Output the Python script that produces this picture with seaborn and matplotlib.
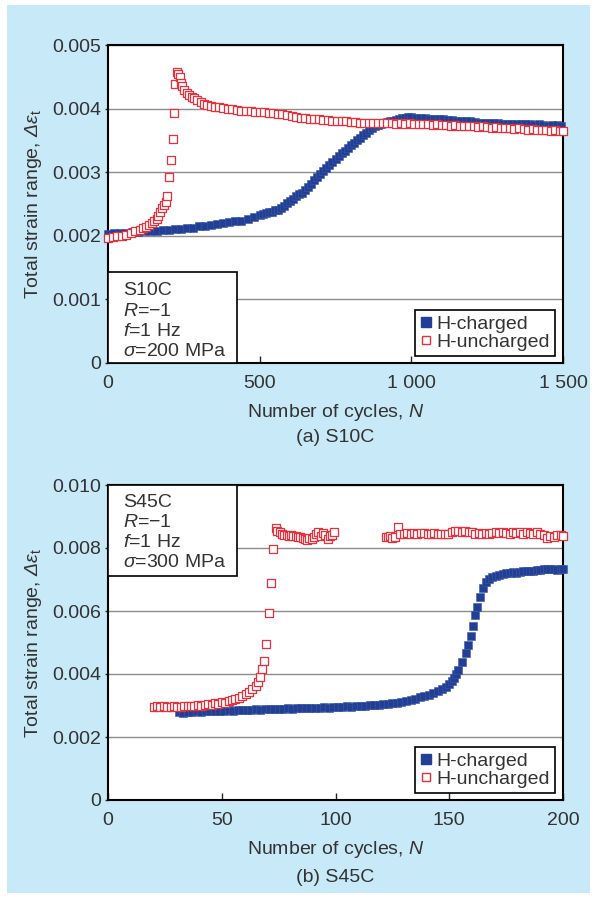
import matplotlib
matplotlib.use("Agg")
import matplotlib.pyplot as plt
import seaborn as sns
from matplotlib.lines import Line2D
from matplotlib.patches import Rectangle

sns.set_style("white")
plt.rcParams.update(
    {
        "font.family": ["Liberation Sans", "DejaVu Sans"],
        "mathtext.fontset": "custom",
        "mathtext.rm": "Liberation Sans",
        "mathtext.it": "Liberation Sans:italic",
        "mathtext.sf": "Liberation Sans:italic",
        "axes.unicode_minus": False,
    }
)

# ---- data: (a) S10C
s10c_charged_n = [
    0, 20, 40, 60, 80, 100, 120, 140, 160, 180, 200, 220, 240, 260, 280, 300,
    320, 340, 360, 380, 400, 420, 440, 460, 480, 500, 510, 520, 530, 540, 550,
    560, 570, 580, 590, 600, 610, 620, 630, 640, 650, 660, 670, 680, 690, 700,
    710, 720, 730, 740, 750, 760, 770, 780, 790, 800, 810, 820, 830, 840, 850,
    860, 870, 880, 890, 900, 910, 920, 930, 940, 950, 960, 970, 980, 990, 1000,
    1015, 1030, 1045, 1060, 1075, 1090, 1105, 1120, 1135, 1150, 1165, 1180,
    1195, 1210, 1225, 1240, 1255, 1270, 1285, 1300, 1315, 1330, 1345, 1360,
    1375, 1390, 1405, 1420, 1435, 1450, 1465, 1480, 1495,
]
s10c_charged = [
    0.00203, 0.00204, 0.00205, 0.00205, 0.00206, 0.00206, 0.00207, 0.00207,
    0.00208, 0.00209, 0.00209, 0.00210, 0.00211, 0.00212, 0.00213, 0.00215,
    0.00216, 0.00217, 0.00219, 0.00220, 0.00221, 0.00223, 0.00224, 0.00227,
    0.00230, 0.00233, 0.00234, 0.00236, 0.00237, 0.00238, 0.00240, 0.00241,
    0.00244, 0.00247, 0.00251, 0.00255, 0.00258, 0.00262, 0.00265, 0.00268,
    0.00272, 0.00277, 0.00282, 0.00287, 0.00292, 0.00297, 0.00302, 0.00307,
    0.00311, 0.00316, 0.00321, 0.00326, 0.00330, 0.00334, 0.00338, 0.00342,
    0.00346, 0.00350, 0.00354, 0.00358, 0.00362, 0.00366, 0.00369, 0.00372,
    0.00374, 0.00376, 0.00378, 0.00379, 0.00380, 0.00381, 0.00382, 0.00383,
    0.00385, 0.00386, 0.00387, 0.00387, 0.00386, 0.00385, 0.00385, 0.00384,
    0.00384, 0.00383, 0.00383, 0.00382, 0.00382, 0.00381, 0.00381, 0.00380,
    0.00380, 0.00379, 0.00378, 0.00378, 0.00378, 0.00377, 0.00377, 0.00376,
    0.00376, 0.00376, 0.00375, 0.00376, 0.00375, 0.00375, 0.00374, 0.00375,
    0.00374, 0.00373, 0.00374, 0.00374, 0.00372,
]
s10c_uncharged_n = [
    0, 15, 30, 45, 60, 75, 90, 105, 115, 125, 135, 145, 152, 160, 166, 172,
    178, 184, 190, 194, 202, 208, 213, 218, 221, 226, 232, 236, 240, 245, 252,
    260, 268, 276, 285, 295, 305, 315, 328, 340, 352, 365, 380, 395, 410, 425,
    440, 455, 470, 485, 500, 515, 530, 545, 560, 575, 590, 605, 620, 635, 650,
    665, 680, 695, 710, 725, 740, 755, 770, 785, 800, 815, 830, 845, 860, 875,
    890, 905, 920, 935, 950, 965, 980, 995, 1010, 1025, 1040, 1055, 1070, 1085,
    1100, 1115, 1130, 1145, 1160, 1175, 1190, 1205, 1220, 1235, 1250, 1265,
    1280, 1295, 1310, 1325, 1340, 1355, 1370, 1385, 1400, 1415, 1430, 1445,
    1460, 1475, 1490, 1500,
]
s10c_uncharged = [
    0.00197, 0.00198, 0.00199, 0.00200, 0.00202, 0.00204, 0.00207, 0.00209,
    0.00212, 0.00214, 0.00217, 0.00220, 0.00223, 0.00227, 0.00231, 0.00237,
    0.00243, 0.00248, 0.00253, 0.00263, 0.00293, 0.00319, 0.00352, 0.00393,
    0.00439, 0.00457, 0.00454, 0.00450, 0.00440, 0.00436, 0.00429, 0.00425,
    0.00421, 0.00419, 0.00416, 0.00413, 0.00411, 0.00408, 0.00406, 0.00404,
    0.00403, 0.00402, 0.00401, 0.00400, 0.00399, 0.00398, 0.00397, 0.00397,
    0.00396, 0.00395, 0.00395, 0.00394, 0.00393, 0.00393, 0.00392, 0.00391,
    0.00390, 0.00388, 0.00387, 0.00386, 0.00385, 0.00384, 0.00384, 0.00383,
    0.00382, 0.00382, 0.00381, 0.00381, 0.00380, 0.00380, 0.00379, 0.00379,
    0.00378, 0.00378, 0.00378, 0.00378, 0.00377, 0.00377, 0.00378, 0.00377,
    0.00376, 0.00377, 0.00376, 0.00377, 0.00376, 0.00375, 0.00376, 0.00375,
    0.00374, 0.00375, 0.00374, 0.00374, 0.00373, 0.00374, 0.00373, 0.00372,
    0.00373, 0.00372, 0.00371, 0.00372, 0.00371, 0.00370, 0.00371, 0.00370,
    0.00369, 0.00370, 0.00368, 0.00369, 0.00368, 0.00367, 0.00368, 0.00366,
    0.00367, 0.00366, 0.00365, 0.00366, 0.00365, 0.00365,
]

# ---- data: (b) S45C
s45c_charged_n = [
    31, 33, 35, 37, 39, 41, 43, 45, 47, 49, 51, 53, 55, 57, 59, 61, 63, 65, 67,
    69, 71, 73, 75, 77, 79, 81, 83, 85, 87, 89, 91, 93, 95, 97, 99, 101, 103,
    105, 107, 109, 111, 113, 115, 117, 119, 121, 123, 125, 127, 129, 131, 133,
    135, 137, 139, 141, 143, 145, 147, 148.5, 150, 151, 152, 153, 154, 155.5,
    157.4, 158.4, 159.4, 160.3, 161.3, 162.3, 163.5, 164.7, 166, 167.5, 169,
    170.5, 172, 173.5, 175, 176.5, 178, 179.5, 181, 182.5, 184, 185.5, 187,
    188.5, 190, 191.5, 193, 194.5, 196, 197.5, 199, 200,
]
s45c_charged = [
    0.00278, 0.00276, 0.00280, 0.00278, 0.00281, 0.00279, 0.00281, 0.00283,
    0.00281, 0.00284, 0.00283, 0.00285, 0.00284, 0.00286, 0.00285, 0.00287,
    0.00286, 0.00288, 0.00287, 0.00289, 0.00288, 0.00290, 0.00289, 0.00290,
    0.00291, 0.00290, 0.00292, 0.00291, 0.00292, 0.00291, 0.00293, 0.00292,
    0.00294, 0.00293, 0.00295, 0.00296, 0.00295, 0.00297, 0.00296, 0.00298,
    0.00298, 0.00300, 0.00301, 0.00302, 0.00303, 0.00304, 0.00306, 0.00307,
    0.00309, 0.00311, 0.00314, 0.00317, 0.00321, 0.00326, 0.00330, 0.00334,
    0.00340, 0.00346, 0.00353, 0.00360, 0.00368, 0.00377, 0.00388, 0.00400,
    0.00413, 0.00439, 0.00466, 0.00492, 0.00521, 0.00552, 0.00587, 0.00612,
    0.00645, 0.00672, 0.00692, 0.00702, 0.00708, 0.00712, 0.00715, 0.00718,
    0.00720, 0.00722, 0.00723, 0.00722, 0.00725, 0.00726, 0.00727, 0.00728,
    0.00728, 0.00730, 0.00731, 0.00733, 0.00734, 0.00733, 0.00732, 0.00731,
    0.00733, 0.00732,
]
s45c_uncharged_n = [
    20, 21.5, 23, 24.5, 26, 27.5, 29, 30.5, 32, 33.5, 35, 36.5, 38, 39.5, 41,
    42.5, 44, 45.5, 47, 48.5, 50, 51.5, 53, 54.5, 56, 57.5, 59, 60.5, 62, 63.5,
    65, 66, 67, 67.8, 68.7, 69.5, 70.9, 71.6, 72.5, 73.8, 74.5, 75.5, 76.5,
    77.5, 78.5, 79.5, 80.5, 81.5, 82.5, 83.5, 84.5, 85.5, 86.5, 87.5, 88.5,
    89.5, 90.5, 91.5, 92.5, 93.5, 94.5, 95.5, 96.5, 97.5, 98.5, 99.5,
    122, 123, 124, 125, 126, 127.5, 128.5, 130, 131.5, 133, 134.5, 136, 137.5,
    139, 140.5, 142, 143.5, 145, 146.5, 148, 149.5, 151, 152.5, 154, 155.5,
    157, 158.5, 160, 161.5, 163, 164.5, 166, 167.5, 169, 170.5, 172, 173.5,
    175, 176.5, 178, 179.5, 181, 182.5, 184, 185.5, 187, 188.5, 190, 191.5,
    193, 194.5, 196, 197.5, 199, 200,
]
s45c_uncharged = [
    0.00296, 0.00297, 0.00295, 0.00297, 0.00296, 0.00295, 0.00297, 0.00294,
    0.00296, 0.00299, 0.00297, 0.00300, 0.00298, 0.00302, 0.00300, 0.00303,
    0.00305, 0.00303, 0.00307, 0.00306, 0.00310, 0.00309, 0.00313, 0.00316,
    0.00320, 0.00324, 0.00330, 0.00335, 0.00342, 0.00351, 0.00362, 0.00375,
    0.00390, 0.00416, 0.00442, 0.00495, 0.00593, 0.00688, 0.00797, 0.00863,
    0.00855, 0.00850, 0.00845, 0.00842, 0.00840, 0.00838, 0.00842, 0.00837,
    0.00838, 0.00836, 0.00835, 0.00833, 0.00828, 0.00825, 0.00832, 0.00828,
    0.00834, 0.00843, 0.00850, 0.00838, 0.00848, 0.00840, 0.00830, 0.00838,
    0.00842, 0.00852,
    0.00836, 0.00834, 0.00838, 0.00832, 0.00836, 0.00868, 0.00845, 0.00843,
    0.00848, 0.00846, 0.00849, 0.00845, 0.00847, 0.00848, 0.00844, 0.00846,
    0.00848, 0.00844, 0.00846, 0.00843, 0.00845, 0.00852, 0.00854, 0.00853,
    0.00852, 0.00855, 0.00851, 0.00850, 0.00845, 0.00848, 0.00846, 0.00849,
    0.00844, 0.00848, 0.00850, 0.00847, 0.00852, 0.00849, 0.00846, 0.00850,
    0.00847, 0.00852, 0.00845, 0.00850, 0.00848, 0.00844, 0.00850, 0.00846,
    0.00840, 0.00832, 0.00838, 0.00836, 0.00841, 0.00840, 0.00838,
]

s10c_xticks = [0, 500, 1000, 1500]
s10c_xticklabels = ["0", "500", "1 000", "1 500"]
s10c_yticks = [0, 0.001, 0.002, 0.003, 0.004, 0.005]
s10c_yticklabels = ["0", "0.001", "0.002", "0.003", "0.004", "0.005"]
s45c_xticks = [0, 50, 100, 150, 200]
s45c_xticklabels = ["0", "50", "100", "150", "200"]
s45c_yticks = [0, 0.002, 0.004, 0.006, 0.008, 0.010]
s45c_yticklabels = ["0", "0.002", "0.004", "0.006", "0.008", "0.010"]

s10c_info = ["S10C", r"$R$=" + "\u22121", r"$f$=1 Hz", r"$\mathsf{σ}$=200 MPa"]
s45c_info = ["S45C", r"$R$=" + "\u22121", r"$f$=1 Hz", r"$\mathsf{σ}$=300 MPa"]

BLUE = "#213f95"
RED = "#e8303c"
TEXT = "#333333"
W, H = 596, 898


def px_axes(left, top, right, bottom):
    return [left / W, 1 - bottom / H, (right - left) / W, (bottom - top) / H]


def draw_panel(ax, ch_n, ch, un_n, un, xlim, ylim, xticks, xlabels, yticks, ylabels):
    sns.scatterplot(
        x=ch_n, y=ch, ax=ax, marker="s", s=30, color=BLUE,
        edgecolor="#3c58a6", linewidth=0.4, clip_on=False, zorder=3,
    )
    sns.scatterplot(
        x=un_n, y=un, ax=ax, marker="s", s=27, facecolor="white",
        edgecolor=RED, linewidth=0.9, clip_on=False, zorder=4,
    )
    ax.set_xlim(*xlim)
    ax.set_ylim(*ylim)
    ax.set_xticks(xticks, xlabels)
    ax.set_yticks(yticks, ylabels)
    ax.yaxis.grid(True, color="#8c8c8c", linewidth=1.0)
    ax.xaxis.grid(False)
    ax.set_axisbelow(True)
    for sp in ax.spines.values():
        sp.set_color("black")
        sp.set_linewidth(1.5)
        sp.set_visible(True)
    ax.tick_params(axis="x", direction="in", length=5, width=1, pad=8.5,
                   labelsize=14, labelcolor=TEXT, bottom=True)
    ax.tick_params(axis="y", direction="out", length=2, width=1, pad=3,
                   labelsize=14, labelcolor=TEXT, left=True)
    ax.set_xlabel("Number of cycles, $N$", fontsize=14, color=TEXT, labelpad=7)
    ax.set_ylabel(r"Total strain range, $\mathsf{Δε}_{\mathrm{t}}$",
                  fontsize=14, color=TEXT, labelpad=6)

    handles = [
        Line2D([], [], ls="", marker="s", markersize=6.7, mfc=BLUE, mec=BLUE),
        Line2D([], [], ls="", marker="s", markersize=6.2, mfc="white", mec=RED, mew=1.0),
    ]
    leg = ax.legend(
        handles, ["H-charged", "H-uncharged"], loc="lower right",
        bbox_to_anchor=(0.982, 0.022), borderaxespad=0, frameon=True,
        fancybox=False, framealpha=1, edgecolor="black", fontsize=14,
        labelcolor=TEXT, handlelength=0.6, handletextpad=0.25,
        borderpad=0.25, labelspacing=0.05,
    )
    leg.get_frame().set_linewidth(1.2)
    leg.set_zorder(6)


def draw_info(fig, box, baselines, lines):
    left, top, right, bottom = box
    fig.add_artist(Rectangle(
        (left / W, 1 - bottom / H), (right - left) / W, (bottom - top) / H,
        transform=fig.transFigure, facecolor="white", edgecolor="black",
        linewidth=1.2, zorder=5,
    ))
    for y, line in zip(baselines, lines):
        fig.text(123 / W, 1 - y / H, line, ha="left", va="baseline",
                 fontsize=14, color=TEXT, zorder=6)


fig = plt.figure(figsize=(W / 100, H / 100), dpi=100)
fig.patch.set_facecolor("white")
fig.add_artist(Rectangle((7 / W, 5 / H), (590 - 7) / W, (893 - 5) / H,
                         transform=fig.transFigure, facecolor="#c7e9f8",
                         edgecolor="none", zorder=-1))

ax1 = fig.add_axes(px_axes(108, 45, 563, 363))
ax2 = fig.add_axes(px_axes(108, 485, 563, 800))
for ax in (ax1, ax2):
    ax.set_facecolor("white")

draw_panel(ax1, s10c_charged_n, s10c_charged, s10c_uncharged_n, s10c_uncharged,
           (0, 1500), (0, 0.005), s10c_xticks, s10c_xticklabels,
           s10c_yticks, s10c_yticklabels)
draw_panel(ax2, s45c_charged_n, s45c_charged, s45c_uncharged_n, s45c_uncharged,
           (0, 200), (0, 0.010), s45c_xticks, s45c_xticklabels,
           s45c_yticks, s45c_yticklabels)

draw_info(fig, (107.5, 272, 236.5, 363), [295, 316, 336.5, 356], s10c_info)
draw_info(fig, (107.5, 485, 236.5, 576), [507, 527, 547, 567], s45c_info)

fig.text(335.5 / W, 1 - 437 / H, "(a) S10C", ha="center", va="center",
         fontsize=14, color=TEXT)
fig.text(335.5 / W, 1 - 878 / H, "(b) S45C", ha="center", va="center",
         fontsize=14, color=TEXT)

fig.savefig("out.png", dpi=100)
